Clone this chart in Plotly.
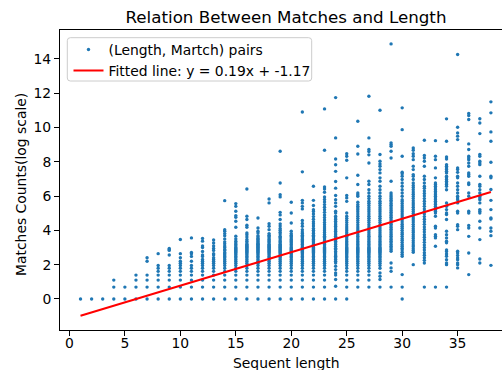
import plotly.graph_objects as go

# ln(match count) values read per sequence length
y_len01 = [0]
y_len02 = [0]
y_len03 = [0]
y_len04 = [0, 0.69, 1.10]
y_len05 = [0, 0.69]
y_len06 = [0, 0.69, 1.10, 1.39]
y_len07 = [0, 0.69, 1.10, 1.39, 2.20, 2.40]
y_len08 = [0, 0.69, 1.10, 1.39, 1.61, 1.79, 1.95, 2.64]
y_len09 = [0, 0.69, 1.10, 1.39, 1.61, 1.79, 1.95, 2.56, 2.83, 2.89, 2.94]
y_len10 = [0, 0.69, 1.10, 1.39, 1.61, 1.79, 1.95, 2.08, 2.20, 2.40, 2.64, 3.47]
y_len11 = [0, 0.69, 1.10, 1.39, 1.61, 1.79, 1.95, 2.20, 2.48, 2.64, 2.71, 3.56]
y_len12 = [0, 0.69, 1.10, 1.39, 1.61, 1.79, 1.95, 2.08, 2.20, 2.30, 2.48, 2.56,
           2.77, 3.00, 3.09, 3.37, 3.53]
y_len13 = [0, 0.69, 1.10, 1.39, 1.61, 1.79, 1.95, 2.08, 2.20, 2.30, 2.40, 2.56,
           2.64, 2.83, 2.94, 3.09, 3.26, 3.44]
y_len14 = [0, 0.69, 1.10, 1.39, 1.61, 1.79, 1.95, 2.08, 2.20, 2.30, 2.40, 2.48,
           2.56, 2.64, 2.71, 2.83, 2.89, 3.00, 3.09, 3.22, 3.33, 3.50, 3.69, 3.81,
           3.95, 4.04, 5.73]
y_len15 = [0, 0.69, 1.10, 1.39, 1.61, 1.79, 1.95, 2.08, 2.20, 2.30, 2.40, 2.48,
           2.56, 2.64, 2.71, 2.77, 2.83, 2.89, 2.94, 3.00, 3.09, 3.18, 3.26, 3.37,
           3.50, 3.66, 4.18, 4.53, 4.76, 4.86, 5.11, 5.40, 5.56]
y_len16 = [0, 0.69, 1.10, 1.39, 1.61, 1.79, 1.95, 2.08, 2.20, 2.30, 2.40, 2.48,
           2.56, 2.64, 2.71, 2.77, 2.83, 2.89, 2.94, 3.00, 3.04, 3.09, 3.14, 3.18,
           3.26, 3.37, 3.47, 3.61, 3.75, 3.85, 4.18, 4.30, 4.63, 4.82, 6.41]
y_len17 = [0, 0.69, 1.10, 1.39, 1.61, 1.79, 1.95, 2.08, 2.20, 2.30, 2.40, 2.48,
           2.56, 2.64, 2.71, 2.77, 2.83, 2.89, 2.94, 3.00, 3.04, 3.09, 3.14, 3.18,
           3.22, 3.26, 3.33, 3.40, 3.47, 3.53, 3.61, 3.69, 3.85, 3.95, 4.14, 4.72]
y_len18 = [0, 0.69, 1.10, 1.39, 1.61, 1.79, 1.95, 2.08, 2.20, 2.30, 2.40, 2.48,
           2.56, 2.64, 2.71, 2.77, 2.83, 2.89, 2.94, 3.00, 3.04, 3.09, 3.14, 3.18,
           3.26, 3.33, 3.40, 3.47, 3.56, 3.64, 3.71, 3.81, 4.04, 4.24, 4.39, 5.60,
           5.83]
y_len19 = [0, 0.69, 1.10, 1.39, 1.61, 1.79, 1.95, 2.08, 2.20, 2.30, 2.40, 2.48,
           2.56, 2.64, 2.71, 2.77, 2.83, 2.89, 2.94, 3.00, 3.04, 3.09, 3.14, 3.18,
           3.26, 3.33, 3.40, 3.50, 3.58, 3.66, 3.78, 3.89, 4.01, 4.11, 4.25, 4.38,
           4.63, 4.90, 5.05, 5.95, 6.08, 6.76, 8.61]
y_len20 = [0, 0.69, 1.10, 1.39, 1.61, 1.79, 1.95, 2.08, 2.20, 2.30, 2.40, 2.48,
           2.56, 2.64, 2.71, 2.77, 2.83, 2.89, 2.94, 3.00, 3.09, 3.18, 3.26, 3.33,
           3.40, 3.47, 3.56, 3.64, 3.71, 3.81, 3.95, 4.43, 5.01, 5.64]
y_len21 = [0, 0.69, 1.10, 1.39, 1.61, 1.79, 1.95, 2.08, 2.20, 2.30, 2.40, 2.48,
           2.56, 2.64, 2.71, 2.77, 2.83, 2.89, 2.94, 3.00, 3.09, 3.18, 3.26, 3.33,
           3.40, 3.47, 3.56, 3.64, 3.71, 3.81, 3.91, 4.04, 4.24, 4.40, 4.57, 5.25,
           5.40, 5.60, 5.75, 7.41, 10.90]
y_len22 = [0, 0.69, 1.10, 1.39, 1.61, 1.79, 1.95, 2.08, 2.20, 2.30, 2.40, 2.48,
           2.56, 2.64, 2.71, 2.77, 2.83, 2.89, 2.94, 3.00, 3.09, 3.18, 3.26, 3.33,
           3.40, 3.47, 3.56, 3.64, 3.71, 3.81, 3.91, 4.01, 4.11, 4.25, 4.38, 4.50,
           4.65, 4.80, 4.95, 5.10, 5.20, 5.45, 5.75, 6.57]
y_len23 = [0, 0.69, 1.10, 1.39, 1.61, 1.79, 1.95, 2.08, 2.20, 2.30, 2.40, 2.48,
           2.56, 2.64, 2.71, 2.77, 2.83, 2.89, 2.94, 3.00, 3.09, 3.18, 3.26, 3.33,
           3.40, 3.50, 3.58, 3.66, 3.76, 3.87, 3.97, 4.08, 4.20, 4.33, 4.46, 4.60,
           4.75, 4.90, 5.05, 5.20, 5.35, 5.50, 5.65, 5.80, 5.95, 6.22, 6.41, 6.53,
           8.67, 11.08]
y_len24 = [0, 0.74, 1.13, 1.39, 1.52, 1.71, 1.91, 2.10, 2.20, 2.30, 2.40, 2.49,
           2.56, 2.68, 2.77, 2.88, 2.96, 3.07, 3.18, 3.27, 3.37, 3.46, 3.56, 3.65,
           3.75, 3.85, 3.95, 4.04, 4.14, 4.24, 4.33, 4.43, 4.53, 4.63, 4.72, 4.82,
           5.01, 5.11, 5.40, 5.60, 5.79, 6.03, 6.46, 6.85, 7.44, 7.82, 8.16, 9.39,
           11.74]
y_len25 = [0, 0.69, 1.10, 1.39, 1.61, 1.79, 1.95, 2.08, 2.20, 2.30, 2.40, 2.48,
           2.56, 2.64, 2.71, 2.77, 2.83, 2.89, 2.94, 3.00, 3.09, 3.18, 3.26, 3.35,
           3.45, 3.55, 3.65, 3.75, 3.86, 3.97, 4.08, 4.20, 4.32, 4.45, 4.58, 4.70,
           4.82, 5.01, 5.69, 5.89, 6.03, 7.06, 8.09, 8.32, 8.47]
y_len26 = [0.69, 1.10, 1.39, 1.61, 1.79, 1.95, 2.08, 2.20, 2.30, 2.40, 2.48, 2.56,
           2.64, 2.71, 2.77, 2.83, 2.89, 2.94, 3.00, 3.09, 3.18, 3.26, 3.35, 3.45,
           3.55, 3.65, 3.75, 3.86, 3.97, 4.08, 4.20, 4.32, 4.45, 4.58, 4.70, 4.82,
           4.95, 5.08, 5.20, 5.30, 5.40, 5.50, 5.64, 5.99, 6.08, 6.18, 6.67, 7.21,
           8.45, 8.90, 10.36]
y_len27 = [0.69, 1.10, 1.39, 1.61, 1.79, 1.95, 2.08, 2.20, 2.30, 2.40, 2.48, 2.56,
           2.64, 2.71, 2.77, 2.83, 2.89, 2.94, 3.00, 3.09, 3.18, 3.26, 3.35, 3.45,
           3.55, 3.65, 3.75, 3.86, 3.97, 4.08, 4.20, 4.32, 4.45, 4.58, 4.70, 4.82,
           4.95, 5.08, 5.20, 5.32, 5.45, 5.58, 5.70, 5.85, 5.99, 6.18, 6.37, 6.67,
           6.86, 7.93, 8.40, 8.60, 8.71, 9.39, 11.82]
y_len28 = [0.69, 1.13, 1.32, 1.52, 1.79, 1.95, 2.08, 2.20, 2.30, 2.40, 2.48, 2.56,
           2.64, 2.71, 2.77, 2.83, 2.89, 2.94, 3.00, 3.09, 3.18, 3.26, 3.35, 3.45,
           3.55, 3.65, 3.75, 3.86, 3.97, 4.08, 4.20, 4.32, 4.45, 4.58, 4.70, 4.82,
           4.95, 5.08, 5.20, 5.32, 5.45, 5.58, 5.70, 5.85, 5.99, 6.18, 6.37, 6.57,
           6.86, 7.06, 7.35, 7.54, 7.74, 7.87, 8.03, 8.42, 11.00]
y_len29 = [0.69, 1.61, 1.81, 2.10, 2.78, 2.88, 2.98, 3.07, 3.17, 3.27, 3.36, 3.46,
           3.56, 3.66, 3.76, 3.86, 3.96, 4.06, 4.16, 4.26, 4.36, 4.46, 4.56, 4.66,
           4.76, 4.86, 4.96, 5.06, 5.16, 5.26, 5.36, 5.46, 5.56, 5.66, 5.76, 5.86,
           5.96, 6.06, 6.18, 6.86, 8.22, 8.61, 8.90, 9.00, 9.10, 14.87]
y_len30 = [0, 0.69, 1.42, 2.49, 2.60, 2.72, 2.85, 2.96, 3.07, 3.18, 3.30, 3.42,
           3.53, 3.65, 3.77, 3.88, 4.00, 4.12, 4.24, 4.36, 4.48, 4.60, 4.72, 4.84,
           4.96, 5.08, 5.20, 5.32, 5.44, 5.56, 5.68, 5.79, 5.99, 6.18, 6.37, 6.57,
           6.76, 6.96, 7.15, 7.30, 7.39, 8.32, 9.87, 11.14]
y_len31 = [2.00, 2.72, 2.82, 2.92, 3.05, 3.15, 3.27, 3.40, 3.52, 3.63, 3.75, 3.87,
           3.98, 4.10, 4.22, 4.35, 4.48, 4.60, 4.72, 4.85, 4.98, 5.10, 5.22, 5.35,
           5.48, 5.60, 5.72, 5.85, 5.98, 6.10, 6.23, 6.37, 6.50, 6.62, 6.76, 6.96,
           7.15, 7.25, 7.54, 7.74, 8.12, 8.32, 8.47, 8.67, 8.80]
y_len32 = [0.69, 2.10, 2.25, 2.40, 2.55, 2.70, 2.85, 3.00, 3.15, 3.30, 3.45, 3.60,
           3.75, 3.90, 4.05, 4.20, 4.35, 4.50, 4.65, 4.80, 4.95, 5.10, 5.25, 5.40,
           5.55, 5.70, 5.85, 6.00, 6.15, 6.30, 6.45, 6.57, 6.76, 6.96, 7.15, 7.74,
           8.03, 8.22, 8.36, 9.25]
y_len33 = [0.69, 3.07, 3.56, 3.65, 3.75, 4.14, 4.24, 4.82, 5.01, 5.11, 5.21, 5.30,
           5.40, 5.50, 5.60, 5.69, 5.79, 5.89, 5.99, 6.08, 6.18, 6.27, 6.37, 6.47,
           6.57, 6.67, 6.76, 7.06, 7.64, 8.12, 8.32, 9.23]
y_len34 = [0.69, 2.00, 2.10, 2.29, 2.49, 2.62, 2.76, 2.86, 3.27, 3.36, 3.56, 3.75,
           3.95, 4.63, 4.92, 5.01, 5.21, 5.40, 5.60, 6.37, 6.57, 6.67, 6.76, 6.86,
           6.96, 7.06, 7.15, 7.35, 7.44, 7.54, 7.64, 7.74, 7.83, 8.16, 8.28, 9.19,
           10.50]
y_len35 = [1.81, 2.00, 2.10, 2.29, 2.39, 2.53, 2.68, 2.78, 4.04, 4.24, 4.33, 5.01,
           5.11, 5.60, 5.79, 5.89, 5.99, 6.18, 6.37, 6.57, 6.76, 7.06, 7.15, 7.38,
           7.54, 7.64, 9.29, 9.49, 9.68, 10.01, 14.25]
y_len36 = [1.42, 2.68, 3.65, 4.14, 4.28, 5.01, 5.11, 5.99, 6.18, 6.67, 6.76, 7.15,
           7.25, 7.35, 7.74, 7.93, 8.12, 8.22, 8.32, 8.71, 9.04, 10.46, 10.69, 10.81]
y_len37 = [2.10, 2.33, 3.46, 4.14, 4.53, 5.01, 5.11, 5.21, 5.60, 5.79, 5.89, 5.99,
           6.18, 6.37, 6.57, 6.67, 7.15, 7.83, 7.93, 8.03, 8.32, 8.42, 9.64, 10.26,
           10.51]
y_len38 = [1.96, 3.69, 3.95, 4.14, 4.66, 4.72, 5.21, 5.75, 6.38, 7.06, 7.15, 7.97,
           9.19, 9.74, 10.85, 11.49]

all_columns = [y_len01, y_len02, y_len03, y_len04, y_len05, y_len06, y_len07,
               y_len08, y_len09, y_len10, y_len11, y_len12, y_len13, y_len14,
               y_len15, y_len16, y_len17, y_len18, y_len19, y_len20, y_len21,
               y_len22, y_len23, y_len24, y_len25, y_len26, y_len27, y_len28,
               y_len29, y_len30, y_len31, y_len32, y_len33, y_len34, y_len35,
               y_len36, y_len37, y_len38]
lengths = list(range(1, 39))

fit_slope = 0.1948
fit_intercept = -1.17

x_tick_vals = [0, 5, 10, 15, 20, 25, 30, 35]
y_tick_vals = [0, 2, 4, 6, 8, 10, 12, 14]

xs, ys = [], []
for L, col in zip(lengths, all_columns):
    for v in col:
        xs.append(L)
        ys.append(v)

fit_x = lengths
fit_y = [fit_slope * x + fit_intercept for x in fit_x]

FONT = "DejaVu Sans"
FS = 13.9
W, H = 502, 370
L_PX, R_PX, T_PX, B_PX = 60, 502, 30, 330

fig = go.Figure()
fig.add_trace(go.Scatter(
    x=xs, y=ys, mode="markers", name="(Length, Martch) pairs",
    marker=dict(color="#1f77b4", size=3.4, line=dict(width=0)),
))
fig.add_trace(go.Scatter(
    x=fit_x, y=fit_y, mode="lines",
    name=f"Fitted line: y = {fit_slope:.2f}x + {fit_intercept:.2f}",
    line=dict(color="red", width=2),
))

pw = R_PX - L_PX
ph = B_PX - T_PX

def px_to_paper_x(px):
    return (px - L_PX) / pw

def px_to_paper_y(py):
    return (B_PX - py) / ph

# legend frame (rounded rectangle, like matplotlib's fancy box)
bx0, bx1, by0, by1, rr = 67.3, 311.7, 37.7, 81.0, 3.0
def P(x, y):
    return f"{px_to_paper_x(x):.5f},{px_to_paper_y(y):.5f}"
frame_path = (
    f"M {P(bx0 + rr, by0)} L {P(bx1 - rr, by0)} Q {P(bx1, by0)} {P(bx1, by0 + rr)} "
    f"L {P(bx1, by1 - rr)} Q {P(bx1, by1)} {P(bx1 - rr, by1)} "
    f"L {P(bx0 + rr, by1)} Q {P(bx0, by1)} {P(bx0, by1 - rr)} "
    f"L {P(bx0, by0 + rr)} Q {P(bx0, by0)} {P(bx0 + rr, by0)} Z"
)

fig.update_layout(
    width=W, height=H,
    margin=dict(l=L_PX, r=W - R_PX, t=T_PX, b=H - B_PX, pad=0,
                autoexpand=False),
    paper_bgcolor="white", plot_bgcolor="white",
    font=dict(family=FONT, size=FS, color="black"),
    title=dict(text="Relation Between Matches and Length",
               font=dict(family=FONT, size=16.7, color="black"),
               x=286 / W, xref="container", xanchor="center",
               y=1 - 17.5 / H, yref="container", yanchor="middle"),
    showlegend=True,
    legend=dict(x=px_to_paper_x(68.5), y=px_to_paper_y(34),
                xanchor="left", yanchor="top",
                bgcolor="rgba(0,0,0,0)", borderwidth=0,
                font=dict(family=FONT, size=FS, color="black"),
                itemwidth=30, tracegroupgap=0),
    shapes=[dict(type="path", xref="paper", yref="paper", path=frame_path,
                 fillcolor="rgba(255,255,255,0.8)",
                 line=dict(color="#cccccc", width=1), layer="above")],
    xaxis=dict(range=[-0.85, 39.0], tickvals=x_tick_vals,
               showgrid=False, zeroline=False, showline=True, mirror=True,
               linecolor="black", linewidth=1, ticks="outside", ticklen=5,
               tickwidth=1, tickcolor="black", automargin=False,
               ticklabelstandoff=-5,
               tickfont=dict(family=FONT, size=FS, color="black")),
    yaxis=dict(range=[-1.81, 15.68], tickvals=y_tick_vals,
               showgrid=False, zeroline=False, showline=True, mirror=False,
               linecolor="black", linewidth=1, ticks="outside", ticklen=5,
               tickwidth=1, tickcolor="black", automargin=False,
               tickfont=dict(family=FONT, size=FS, color="black")),
    annotations=[
        dict(text="Sequent length", xref="paper", yref="paper",
             x=px_to_paper_x(286), y=px_to_paper_y(363),
             xanchor="center", yanchor="middle", showarrow=False,
             font=dict(family=FONT, size=FS, color="black")),
        dict(text="Matches Counts(log scale)", xref="paper", yref="paper",
             x=px_to_paper_x(21), y=px_to_paper_y(185), textangle=-90,
             xanchor="center", yanchor="middle", showarrow=False,
             font=dict(family=FONT, size=FS, color="black")),
    ],
)

fig.write_html(
    "out.html",
    config={"displayModeBar": False},
    post_script="document.body.style.margin='0';document.body.style.overflow='hidden';",
)
